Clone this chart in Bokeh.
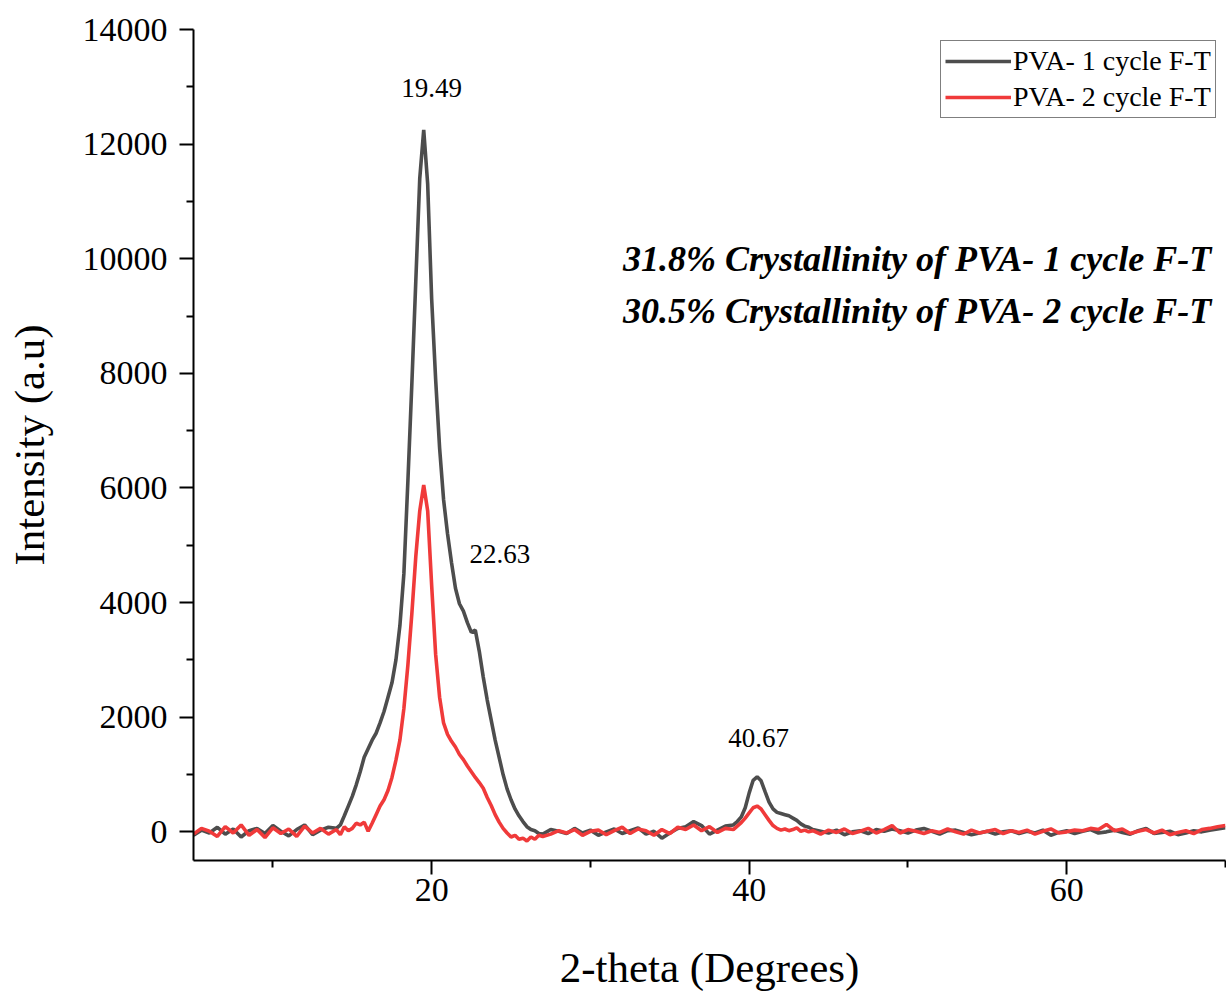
from bokeh.plotting import figure
from bokeh.models import FixedTicker, Range1d, Legend, LegendItem, ColumnDataSource
from bokeh.embed import file_html
from bokeh.resources import INLINE
from bokeh.core.properties import value

# ---- data ----
theta_a = [5, 5.5, 6, 6.5, 7, 7.5, 8, 8.5, 9, 9.5, 10, 10.5, 11, 11.5, 12, 12.5, 13, 13.5]
black_a = [-60, 30, -20, 80, -40, 50, -90, 20, 60, -30, 110, 10, -70, 40, 120, -50, 30, 80]
red_a = [-40, 60, 10, -80, 90, -20, 120, -60, 40, -100, 70, -30, 50, -80, 100, -20, 60, -40]

theta_b = [14, 14.25, 14.5, 14.75, 15, 15.25, 15.5, 15.75, 16, 16.25, 16.5, 16.75, 17, 17.25,
           17.5, 17.75, 18, 18.25, 18.5, 18.75, 19, 19.25, 19.5, 19.75, 20, 20.25, 20.5, 20.75,
           21, 21.25, 21.5, 21.75, 22, 22.25, 22.5, 22.75, 23, 23.25, 23.5, 23.75, 24, 24.25,
           24.5, 24.75, 25, 25.25, 25.5, 25.75, 26, 26.25, 26.5, 26.75]
black_b = [60, 120, 280, 450, 620, 820, 1050, 1300, 1450, 1600, 1720, 1900, 2100, 2350,
           2600, 3000, 3600, 4500, 6100, 7800, 9600, 11400, 12250, 11300, 9300, 7900, 6700, 5800,
           5200, 4700, 4250, 3980, 3850, 3650, 3480, 3520, 3150, 2700, 2300, 1950, 1600, 1300,
           1000, 750, 560, 400, 280, 180, 90, 40, 20, -30]
red_b = [40, -50, 90, 20, 60, 150, 120, 170, 10, 150, 300, 450, 560, 720,
         950, 1250, 1600, 2150, 2900, 3800, 4800, 5600, 6050, 5600, 4300, 3100, 2350, 1900,
         1700, 1580, 1480, 1350, 1260, 1150, 1050, 950, 860, 760, 600, 460, 300, 170,
         60, -20, -90, -60, -130, -110, -160, -90, -130, -60]

theta_c = [27, 27.5, 28, 28.5, 29, 29.5, 30, 30.5, 31, 31.5, 32, 32.5, 33, 33.5, 34, 34.5,
           35, 35.5, 36, 36.5, 37, 37.5, 38, 38.5]
black_c = [-40, 40, 10, -30, 60, -20, 30, -60, 0, 50, -30, 20, 70, -40, 10, -110,
           -20, 60, 90, 180, 110, -40, 30, 100]
red_c = [-80, -40, 20, -20, 40, -60, 10, 30, -50, 20, 80, -30, 50, 20, -60, 40,
         -30, 80, 40, 120, 20, 90, -10, 60]

theta_d = [39, 39.25, 39.5, 39.75, 40, 40.25, 40.5, 40.75, 41, 41.25, 41.5, 41.75, 42, 42.25,
           42.5, 42.75, 43, 43.25, 43.5, 43.75]
black_d = [120, 180, 260, 420, 680, 900, 960, 890, 700, 520, 400, 340, 320, 300,
           280, 240, 200, 140, 100, 80]
red_d = [40, 100, 160, 240, 330, 420, 450, 400, 300, 200, 110, 60, 30, 50,
         20, 40, 70, 10, 30, 0]

theta_e = [44, 44.5, 45, 45.5, 46, 46.5, 47, 47.5, 48, 48.5, 49, 49.5, 50, 50.5, 51, 51.5,
           52, 52.5, 53, 53.5, 54, 54.5, 55, 55.5, 56, 56.5, 57, 57.5, 58, 58.5, 59, 59.5,
           60, 60.5, 61, 61.5, 62, 62.5, 63, 63.5, 64, 64.5, 65, 65.5, 66, 66.5, 67, 67.5,
           68, 68.5, 69, 69.5, 70]
black_e = [40, 10, -20, 30, -50, 0, 20, -30, 40, 10, 50, 20, -20, 30, 60, 10,
           -40, 20, 30, -10, -50, -20, 10, -40, 0, 20, -30, 10, -20, 30, -60, -10,
           20, -30, 10, 40, -20, 0, 30, -10, -40, 20, 60, -30, -10, 10, -50, -20,
           20, 0, 30, 50, 70]
red_e = [20, -40, 30, -10, 50, -30, 10, 60, -20, 40, 110, -20, 40, 10, -30, 20,
         -10, 50, 0, -40, 30, -20, 10, 40, -30, 20, -10, 30, -40, 10, 50, -20,
         0, 30, 20, 60, 40, 130, 20, 50, -30, 10, 40, -20, 30, -50, -10, 20,
         -30, 40, 60, 90, 110]

theta = theta_a + theta_b + theta_c + theta_d + theta_e
pva_1cycle = black_a + black_b + black_c + black_d + black_e
pva_2cycle = red_a + red_b + red_c + red_d + red_e

series_names = ["PVA- 1 cycle F-T", "PVA- 2 cycle F-T"]
peak_labels = ["19.49", "22.63", "40.67"]
peak_x = [20.0, 24.3, 40.6]
peak_y = [12980, 4850, 1640]
notes = ["31.8% Crystallinity of PVA- 1 cycle F-T", "30.5% Crystallinity of PVA- 2 cycle F-T"]
notes_x = [69.1, 69.1]
notes_y = [10000, 9080]

x_ticks = [20, 40, 60]
x_minor = [10, 30, 50, 70]
y_ticks = [0, 2000, 4000, 6000, 8000, 10000, 12000, 14000]
y_minor = [1000, 3000, 5000, 7000, 9000, 11000, 13000]

FONT = "Liberation Serif"
BLACK = "#4d4d4d"
RED = "#f03a3a"

p = figure(width=1226, height=995, output_backend="svg", toolbar_location=None,
           x_range=Range1d(5, 70), y_range=Range1d(-500, 14000),
           min_border_left=193, min_border_top=29, min_border_right=1, min_border_bottom=135)
p.outline_line_color = None
p.xgrid.grid_line_color = None
p.ygrid.grid_line_color = None
p.background_fill_color = "white"
p.border_fill_color = "white"

r1 = p.line(theta, pva_1cycle, line_color=BLACK, line_width=3.6)
r2 = p.line(theta, pva_2cycle, line_color=RED, line_width=3.6)

for ax in (p.xaxis[0], p.yaxis[0]):
    ax.axis_line_width = 2
    ax.axis_line_color = "black"
    ax.major_tick_line_width = 2
    ax.minor_tick_line_width = 2
    ax.major_tick_line_color = "black"
    ax.minor_tick_line_color = "black"
    ax.major_tick_out = 14
    ax.major_tick_in = 0
    ax.minor_tick_out = 7
    ax.minor_tick_in = 0
    ax.major_label_text_font = FONT
    ax.major_label_text_font_size = "34px"
    ax.major_label_text_color = "black"
    ax.axis_label_text_font = FONT
    ax.axis_label_text_font_size = "43px"
    ax.axis_label_text_font_style = "normal"
    ax.axis_label_text_color = "black"

p.xaxis.ticker = FixedTicker(ticks=x_ticks, minor_ticks=x_minor)
p.yaxis.ticker = FixedTicker(ticks=y_ticks, minor_ticks=y_minor)
p.xaxis.axis_label = "2-theta (Degrees)"
p.yaxis.axis_label = "Intensity (a.u)"
p.xaxis.major_label_standoff = 4
p.yaxis.major_label_standoff = 12
p.xaxis.axis_label_standoff = 40
p.yaxis.axis_label_standoff = 27

src_peaks = ColumnDataSource(dict(x=peak_x, y=peak_y, t=peak_labels))
p.text(x="x", y="y", text="t", source=src_peaks, text_font=value(FONT),
       text_font_size="27px", text_align="center", text_baseline="middle", text_color="black")

src_notes = ColumnDataSource(dict(x=notes_x, y=notes_y, t=notes))
p.text(x="x", y="y", text="t", source=src_notes, text_font=value(FONT),
       text_font_size="36px", text_font_style="bold italic", text_align="right",
       text_baseline="middle", text_color="black")

legend = Legend(items=[LegendItem(label=series_names[0], renderers=[r1]),
                       LegendItem(label=series_names[1], renderers=[r2])],
                location=(747, 742))
legend.label_text_font = FONT
legend.label_text_font_size = "28px"
legend.label_text_color = "black"
legend.glyph_width = 66
legend.glyph_height = 30
legend.label_height = 30
legend.label_standoff = 2
legend.spacing = 4
legend.padding = 4
legend.margin = 0
legend.border_line_color = "black"
legend.border_line_width = 1
legend.background_fill_alpha = 1
p.add_layout(legend)

open("out.html", "w").write(file_html(p, INLINE))
